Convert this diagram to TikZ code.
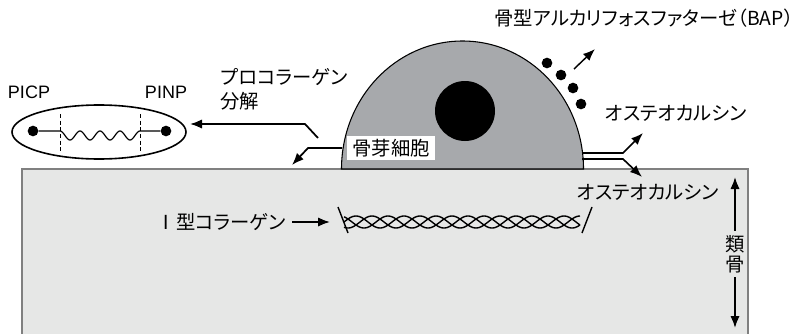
\documentclass[tikz,border=0pt]{standalone}
\usepackage{fontspec}
\setmainfont[RawFeature=+palt]{Noto Sans CJK JP}
\newfontfamily\latinfont{Liberation Sans}
\usetikzlibrary{arrows.meta,shapes.geometric}

\definecolor{bonegray}{RGB}{230,231,230}
\definecolor{boneedge}{RGB}{128,128,128}
\definecolor{cellgray}{RGB}{167,169,172}

\tikzset{
  txt/.style={font=\fontsize{14.5}{16}\selectfont, inner sep=1pt},
  ltxt/.style={font=\latinfont\fontsize{13.5}{15}\selectfont, inner sep=1pt},
  arr/.style={-{Latex[length=9pt,width=7pt]}, line width=1.3pt},
  ball/.style={circle, fill=black, inner sep=0pt, minimum size=8pt},
  strand/.style={line width=1.05pt},
}

\begin{document}
\begin{tikzpicture}[x=0.75pt,y=0.75pt]
\useasboundingbox (0,0) rectangle (802,333);

% bone surface and osteoblast
\draw[fill=bonegray, draw=boneedge, line width=1.2pt] (22,-5) rectangle (748,164);
\draw[fill=cellgray, line width=0.8pt] (341.5,164) arc[start angle=180, end angle=0, x radius=121, y radius=128] -- cycle;

\path (465,222) node[circle, fill=black, inner sep=0pt, minimum size=45pt] (nucleus) {}
      (391,185) node[txt, fill=white, inner xsep=4pt, inner ysep=2pt] (obl) {骨芽細胞}
      (99,201) node[ellipse, draw, line width=1.2pt, inner sep=0pt, minimum width=130.5pt, minimum height=40.5pt] (frag) {}
      (33,202) node[ball] (cterm) {}
      (166,202) node[ball] (nterm) {}
      (29,241) node[ltxt] (picp) {PICP}
      (166,241) node[ltxt] (pinp) {PINP}
      (219,256) node[txt, anchor=west] (procol) {プロコラーゲン}
      (219,232) node[txt, anchor=west] (bunkai) {分解}
      (795,315) node[txt, anchor=east] (bap) {骨型アルカリフォスファターゼ（BAP）}
      (676,220) node[txt] (ocup) {オステオカルシン}
      (648,141) node[txt] (ocdown) {オステオカルシン}
      (287,111) node[txt, anchor=east] (col1) {Ⅰ型コラーゲン}
      (735,79) node[txt, align=center, inner sep=3pt, font=\fontsize{14.5}{15}\selectfont] (osteoid) {類\\骨}
      ;

\coordinate (cut) at (318,195);
\coordinate (cutbend) at (305,209);
\coordinate (fragtip) at (190,209);
\coordinate (cellleft) at (342,185);
\coordinate (cellbend) at (308,185);
\coordinate (surftip) at (292,168);
\coordinate (coltip) at (330,111);
\coordinate (osttop) at (735,156);
\coordinate (ostbot) at (735,5);

% procollagen peptide
\draw[dashed, dash pattern=on 3pt off 2pt, line width=0.6pt] (60,219) -- (60,181) (140,219) -- (140,181);
\draw[line width=0.9pt] (cterm) -- (60,202) -- plot[domain=60:140, samples=81, smooth] (\x,{202-4.5*(1-cos(18*(\x-60)))}) -- (nterm);

\draw[arr] (cut) -- (cutbend) -- (fragtip);
\draw[arr] (cellleft) -- (cellbend) -- (surftip);

% alkaline phosphatase granules
\foreach \gx/\gy [count=\i] in {547/270, 561/258, 573/245, 581/229}
  \node[ball] (gran\i) at (\gx,\gy) {};
\draw[arr, line width=1.1pt] (574,264) -- (595,284);

% osteocalcin release
\draw[arr, line width=1.2pt] (582,180) -- (623,180) -- (643,200);
\draw[arr, line width=1.2pt] (582,174) -- (623,174) -- (642,156);

% type I collagen triple helix
\draw[arr] (col1.east) ++(5,0) -- (coltip);
\foreach \ph in {0,120,240}
  \draw[strand] plot[domain=344:580, samples=160, smooth] (\x,{111+6*sin(7.5*(\x-344)+\ph)});
\draw[strand] (338,126) -- (348,100);
\draw[strand] (582,100) -- (592,126);

\draw[arr] (osteoid) -- (osttop);
\draw[arr] (osteoid) -- (ostbot);
\end{tikzpicture}
\end{document}
